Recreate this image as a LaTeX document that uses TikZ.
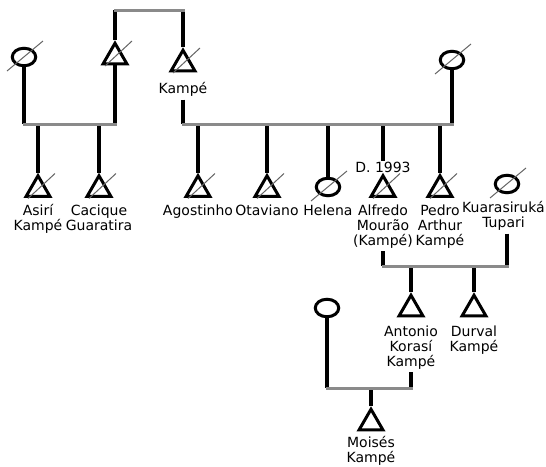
\documentclass[tikz,border=0pt]{standalone}
\usepackage{fontspec}
\setmainfont{DejaVu Sans}
\usetikzlibrary{shapes.geometric,calc,positioning}
\definecolor{bargray}{RGB}{138,138,138}
\definecolor{slashgray}{RGB}{100,100,100}

\begin{document}
\begin{tikzpicture}[x=1pt,y=-1pt,
	male/.style={regular polygon,regular polygon sides=3,draw,line width=3pt,minimum size=27.5pt,inner sep=0pt},
	female/.style={ellipse,draw,line width=3pt,minimum width=23.5pt,minimum height=17.5pt,inner sep=0pt},
	tag/.style={anchor=north,align=center,inner sep=1pt,font=\fontsize{14}{15}\selectfont,
		execute at begin node=\strut,execute at end node=\strut},
	descent/.style={line width=3.4pt},
	union/.style={line width=3pt,draw=bargray,line cap=rect},
	dead/.style={line width=1pt,draw=slashgray}]
	\useasboundingbox (0,0) rectangle (546,466);
	% levels of the union bars
	\coordinate (bar0) at (0,10);
	\coordinate (bar1) at (0,124);
	\coordinate (bar2) at (0,266);
	\coordinate (bar3) at (0,388);
	% people
	\node[female] (asf) at (24,57) {};
	\node[male] (cf) at (115,57) {};
	\node[male] (kp) at (183,64) {};
	\node[female] (pm) at (452,60) {};
	\node[male] (asiri) at (38,189.5) {};
	\node[male] (cacique) at (99,189.5) {};
	\node[male] (agostinho) at (198,189.5) {};
	\node[male] (otaviano) at (267,189.5) {};
	\node[female] (helena) at (328,187) {};
	\node[male] (alfredo) at (383,189.5) {};
	\node[male] (pedro) at (440,189.5) {};
	\node[female] (kuara) at (507,184) {};
	\node[female] (mm) at (327,308) {};
	\node[male] (antonio) at (411,309) {};
	\node[male] (durval) at (474,309) {};
	\node[male] (moises) at (371,423) {};
	% names
	\node[tag] (kpname) at (183,81.5) {Kampé};
	\node[tag] (asiriname) at (38,203.5) {Asirí\\Kampé};
	\node[tag] (caciquename) at (99,203.5) {Cacique\\Guaratira};
	\node[tag] (agostinhoname) at (198,203.5) {Agostinho};
	\node[tag] (otavianoname) at (267,203.5) {Otaviano};
	\node[tag] (helenaname) at (328,203.5) {Helena};
	\node[tag] (died) at (383,160.5) {D. 1993};
	\node[tag] (alfredoname) at (383,203.5) {Alfredo\\Mourão\\(Kampé)};
	\node[tag] (pedroname) at (440,203.5) {Pedro\\Arthur\\Kampé};
	\node[tag] (kuaraname) at (503.5,200.5) {Kuarasiruká\\Tupari};
	\node[tag] (antonioname) at (411,324.5) {Antonio\\Korasí\\Kampé};
	\node[tag] (durvalname) at (474,324.5) {Durval\\Kampé};
	\node[tag] (moisesname) at (371,435.5) {Moisés\\Kampé};
	% top couple
	\draw[descent] (cf) -- (cf |- bar0);
	\draw[descent] (kp) -- (kp |- bar0);
	\draw[union] (cf |- bar0) -- (kp |- bar0);
	% first family
	\draw[descent] (asf) -- (asf |- bar1);
	\draw[descent] (cf) -- (cf |- bar1);
	\foreach \c in {asiri,cacique}
		\draw[descent] (\c) -- (\c |- bar1);
	\draw[union] (asf |- bar1) -- (cf |- bar1);
	% family of Kampe
	\draw[descent] (kpname) -- (kpname |- bar1);
	\draw[descent] (pm) -- (pm |- bar1);
	\foreach \c in {agostinho,otaviano,helena,died,pedro}
		\draw[descent] (\c) -- (\c |- bar1);
	\draw[union] (kp |- bar1) -- (pm |- bar1);
	% family of Alfredo
	\draw[descent] (alfredoname) -- (alfredoname |- bar2);
	\draw[descent] (kuara |- kuaraname.south) -- (kuara |- bar2);
	\foreach \c in {antonio,durval}
		\draw[descent] (\c) -- (\c |- bar2);
	\draw[union] (alfredo |- bar2) -- (kuara |- bar2);
	% family of Antonio
	\draw[descent] (mm) -- (mm |- bar3);
	\draw[descent] (antonioname) -- (antonioname |- bar3);
	\draw[descent] (moises) -- (moises |- bar3);
	\draw[union] (mm |- bar3) -- (antonio |- bar3);
	% deceased
	\foreach \p in {cf,kp,asiri,cacique,agostinho,otaviano,alfredo,pedro}
		\draw[dead] ($(\p)+(-10,9)$) -- ($(\p)+(17,-16)$);
	\foreach \p in {asf,pm,helena,kuara}
		\draw[dead] ($(\p)+(-17,14)$) -- ($(\p)+(19,-16)$);
\end{tikzpicture}
\end{document}
